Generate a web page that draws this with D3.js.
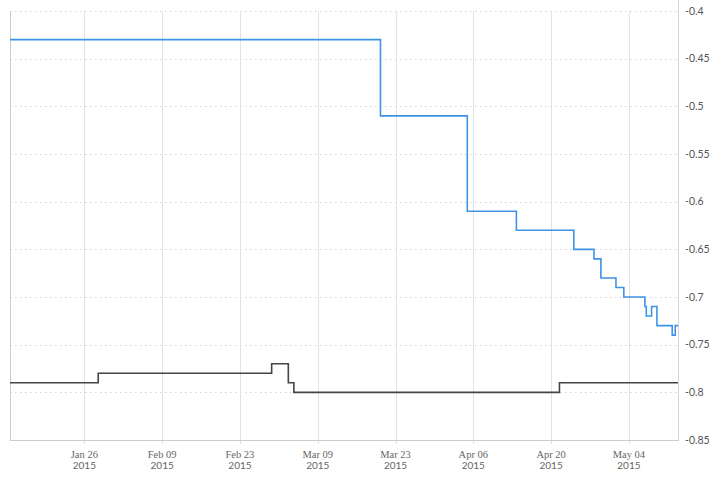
<!DOCTYPE html>
<html>
<head>
<meta charset="utf-8">
<script src="https://cdn.jsdelivr.net/npm/d3@7"></script>
<style>
  html, body { margin: 0; padding: 0; background: #fff; }
  svg { display: block; }
</style>
</head>
<body>
<svg id="chart" width="728" height="477"></svg>
<script>
// ---- data ----
const blueDates = ["2015-01-12T15:00","2015-03-20T07:00","2015-04-04T22:00","2015-04-13T18:00","2015-04-24T02:00","2015-04-27T17:00","2015-04-28T23:00","2015-05-01T16:00","2015-05-03T02:00","2015-05-06T21:00","2015-05-07T03:00","2015-05-08T02:00","2015-05-09T01:00","2015-05-11T19:00","2015-05-12T08:00","2015-05-12T20:00"];
const blueValues = [-0.43,-0.51,-0.61,-0.63,-0.65,-0.66,-0.68,-0.69,-0.70,-0.71,-0.72,-0.71,-0.73,-0.74,-0.73,-0.73];
const blackDates = ["2015-01-12T15:00","2015-01-28T12:00","2015-02-28T17:00","2015-03-03T17:00","2015-03-04T17:00","2015-04-21T12:00","2015-05-12T20:00"];
const blackValues = [-0.79,-0.78,-0.77,-0.79,-0.80,-0.79,-0.79];
const xTickDates = ["2015-01-26T00:00","2015-02-09T00:00","2015-02-23T00:00","2015-03-09T00:00","2015-03-23T00:00","2015-04-06T00:00","2015-04-20T00:00","2015-05-04T00:00"];
const yTicks = [-0.4,-0.45,-0.5,-0.55,-0.6,-0.65,-0.7,-0.75,-0.8,-0.85];
const yTickLabels = ["-0.4","-0.45","-0.5","-0.55","-0.6","-0.65","-0.7","-0.75","-0.8","-0.85"];

(function () {
const parse = d3.timeParse("%Y-%m-%dT%H:%M");
const blue = blueDates.map((d, i) => ({date: parse(d), value: blueValues[i]}));
const black = blackDates.map((d, i) => ({date: parse(d), value: blackValues[i]}));
const ticks = xTickDates.map(parse);

const pL = 10, pR = 678, pT = 11, pB = 440;
const svg = d3.select("#chart");

const x = d3.scaleTime()
  .domain([parse("2015-01-12T15:00"), parse("2015-05-12T20:00")])
  .range([pL, pR]);
const y = d3.scaleLinear().domain([-0.85, -0.4]).range([pB, pT]);

// horizontal dotted gridlines
svg.append("g").selectAll("line").data(yTicks).join("line")
  .attr("x1", pL).attr("x2", pR)
  .attr("y1", d => Math.round(y(d)) + 0.5).attr("y2", d => Math.round(y(d)) + 0.5)
  .attr("stroke", "#d4d4d4").attr("stroke-dasharray", "1.5,3.5");

// vertical gridlines
svg.append("g").selectAll("line").data(ticks).join("line")
  .attr("x1", d => Math.round(x(d)) + 0.5).attr("x2", d => Math.round(x(d)) + 0.5)
  .attr("y1", pT).attr("y2", pB + 4)
  .attr("stroke", "#e3e3e3");

// frame lines
svg.append("line").attr("x1", pL + 0.5).attr("x2", pL + 0.5).attr("y1", pT).attr("y2", pB + 0.5).attr("stroke", "#cccccc");
svg.append("line").attr("x1", pR + 0.5).attr("x2", pR + 0.5).attr("y1", 0).attr("y2", pB + 0.5).attr("stroke", "#d6d6d6");
svg.append("line").attr("x1", pL).attr("x2", pR + 1).attr("y1", pB + 0.5).attr("y2", pB + 0.5).attr("stroke", "#cccccc");

// x axis labels
const xl = svg.append("g").selectAll("g").data(ticks).join("g")
  .attr("transform", d => `translate(${x(d)},0)`);
xl.append("text").attr("y", 458).attr("text-anchor", "middle")
  .attr("font-family", "'Liberation Serif', serif").attr("font-size", 10.5).attr("fill", "#666")
  .text(d => d3.timeFormat("%b %d")(d));
xl.append("text").attr("y", 469).attr("text-anchor", "middle")
  .attr("font-family", "Lato, sans-serif").attr("font-size", 10).attr("fill", "#666")
  .text(d => d3.timeFormat("%Y")(d));

// y axis labels
svg.append("g").selectAll("text").data(yTicks).join("text")
  .attr("x", 685).attr("y", d => y(d) + 3.5)
  .attr("font-family", "Lato, sans-serif").attr("font-size", 10.5).attr("fill", "#555")
  .text((d, i) => yTickLabels[i]);

const line = d3.line().x(d => x(d.date)).y(d => y(d.value)).curve(d3.curveStepAfter);

svg.append("path").datum(black).attr("d", line)
  .attr("fill", "none").attr("stroke", "#444").attr("stroke-width", 1.6);
svg.append("path").datum(blue).attr("d", line)
  .attr("fill", "none").attr("stroke", "#3f93e6").attr("stroke-width", 1.6);
})();
</script>
</body>
</html>
